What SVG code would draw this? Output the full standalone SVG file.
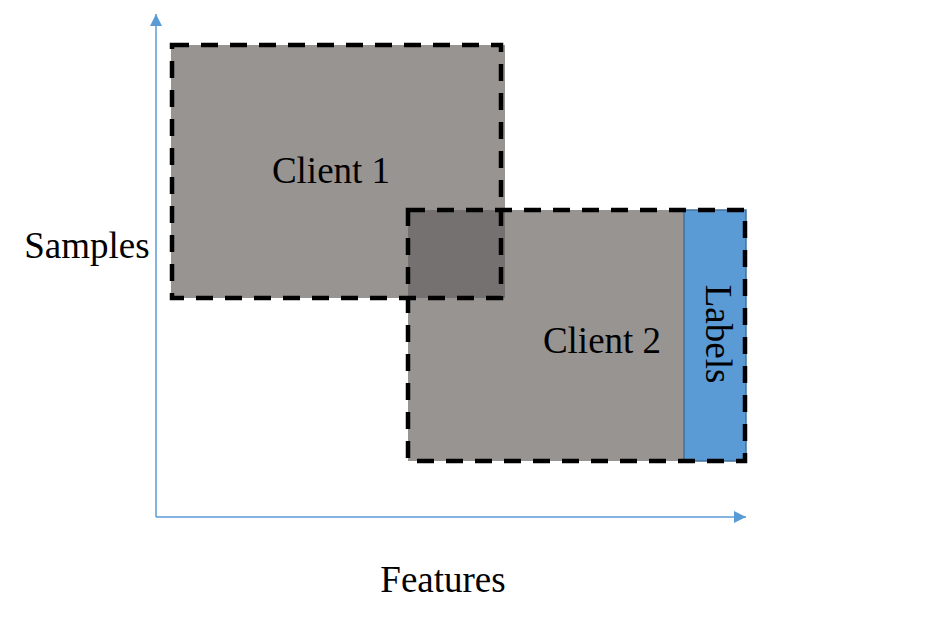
<svg xmlns="http://www.w3.org/2000/svg" width="929" height="625" viewBox="0 0 929 625">
<defs>
<style>
.lbl{font-family:"Liberation Serif","Times New Roman",serif;font-size:37px;fill:#000}
.dash{fill:none;stroke:#000;stroke-width:4.5;stroke-dasharray:17 12}
.axis{stroke:#5b9bd5;stroke-width:1.5;fill:none}
</style>
<marker id="ah" viewBox="0 0 12 12" refX="12" refY="6" markerWidth="12" markerHeight="12" markerUnits="userSpaceOnUse" orient="auto">
<path d="M0,0 L12,6 L0,12 Z" fill="#5b9bd5"/>
</marker>
</defs>
<rect width="929" height="625" fill="#fff"/>
<g id="client1">
<rect x="171" y="45" width="334" height="253" fill="#989492"/>
</g>
<g id="client2">
<rect x="408" y="210" width="338" height="251" fill="#989492"/>
<rect x="408" y="210" width="97" height="88" fill="#757170"/>
</g>
<g id="labels">
<rect x="684" y="210" width="62" height="251" fill="#5b9bd5" stroke="#41719c" stroke-width="1.5"/>
<text class="lbl" text-anchor="middle" transform="translate(706,334) rotate(90)">Labels</text>
</g>
<g id="borders">
<rect class="dash" x="172" y="45" width="329" height="253"/>
<rect class="dash" x="408" y="210" width="337" height="251"/>
</g>
<text class="lbl" x="331" y="183" text-anchor="middle">Client 1</text>
<text class="lbl" x="602" y="353" text-anchor="middle">Client 2</text>
<g id="connectors">
<line class="axis" x1="156" y1="517" x2="156" y2="14" marker-end="url(#ah)"/>
<line class="axis" x1="156" y1="517" x2="746" y2="517" marker-end="url(#ah)"/>
</g>
<text class="lbl" x="87" y="258" text-anchor="middle">Samples</text>
<text class="lbl" x="443" y="592" text-anchor="middle">Features</text>
</svg>
